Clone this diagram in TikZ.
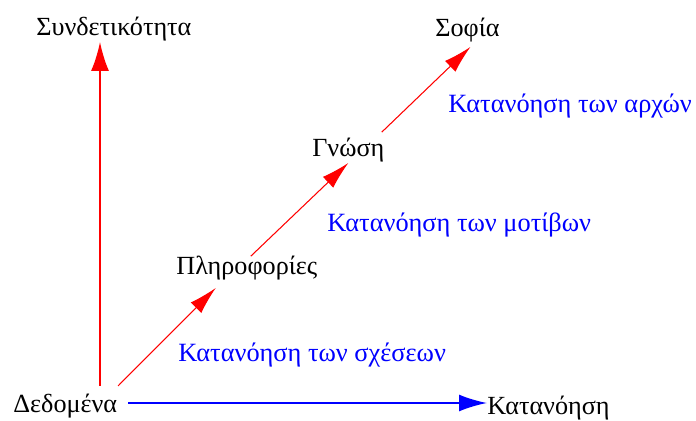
\documentclass[tikz,border=0pt]{standalone}
\usepackage{fontspec}
\setmainfont{Liberation Serif}
\usetikzlibrary{arrows.meta}

\begin{document}
\begin{tikzpicture}[
        x=0.02cm, y=-0.02cm,
        stage/.style={
            inner sep=0pt,
            anchor=base west,
            font=\fontsize{14.9}{16}\selectfont
        },
        level note/.style={
            inner sep=0pt,
            anchor=base west,
            text=blue,
            font=\fontsize{15}{17}\selectfont
        },
        axis arrow/.style={
            red,
            line width=1.1pt,
            -{Latex[length=0.58cm,width=0.36cm]}
        },
        step arrow/.style={
            red,
            line width=0.6pt,
            -{Latex[length=0.56cm,width=0.3cm]}
        },
        flat arrow/.style={
            blue,
            line width=1.1pt,
            -{Latex[length=0.56cm,width=0.34cm]}
        }
    ]
        \useasboundingbox (0,0) rectangle (696,421);

        \node[stage] (connect) at (36,36) {Συνδετικότητα};
        \node[stage] (wisdom) at (435,37) {Σοφία};
        \node[stage] (knowledge) at (312,157) {Γνώση};
        \node[stage] (info) at (176,275) {Πληροφορίες};
        \node[stage] (data) at (13,413) {Δεδομένα};
        \node[stage] (understand) at (487,415) {Κατανόηση};

        \node[level note] (principles) at (448,113) {Κατανόηση των αρχών};
        \node[level note] (patterns) at (327,232) {Κατανόηση των μοτίβων};
        \node[level note] (relations) at (178,362) {Κατανόηση των σχέσεων};

        \coordinate (vbase) at (100,386);
        \coordinate (dbase) at (118,386);
        \coordinate (hbase) at (128,403);

        \draw[axis arrow] (vbase) -- (vbase |- connect.south);
        \draw[flat arrow] (hbase) -- (hbase -| understand.west);
        \draw[step arrow] (dbase) -- ([shift={(-31,7)}]info.south);
        \draw[step arrow] ([shift={(4,0)}]info.north) -- (knowledge.south);
        \draw[step arrow] ([shift={(-3,-6)}]knowledge.north east) -- ([shift={(3,4)}]wisdom.south);
    \end{tikzpicture}
\end{document}
